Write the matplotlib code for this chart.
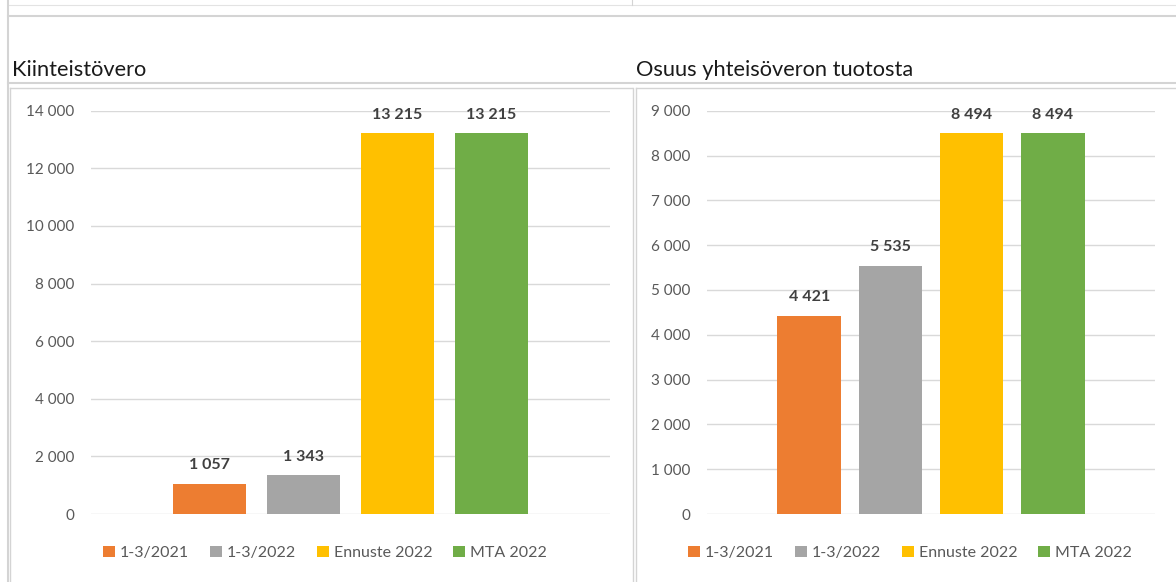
import matplotlib
matplotlib.use("Agg")
import matplotlib.pyplot as plt
from matplotlib.lines import Line2D
from matplotlib.patches import Patch

plt.rcParams['font.family'] = ['Lato', 'DejaVu Sans']

series = ['1-3/2021', '1-3/2022', 'Ennuste 2022', 'MTA 2022']
colors = ['#ED7D31', '#A5A5A5', '#FFC000', '#70AD47']

kiinteisto = [1057, 1343, 13215, 13215]
yhteisovero = [4421, 5535, 8494, 8494]

title_left = 'Kiinteistövero'
title_right = 'Osuus yhteisöveron tuotosta'
ticks_left = list(range(0, 14001, 2000))
ticks_right = list(range(0, 9001, 1000))

W, H = 1176, 582
fig = plt.figure(figsize=(W / 100, H / 100), dpi=100)


def fmt(v):
    return '{:,}'.format(int(v)).replace(',', ' ')


def px(x0, y0, x1, y1):
    # pixel box -> figure fraction rect
    return [x0 / W, 1 - y1 / H, (x1 - x0) / W, (y1 - y0) / H]


def draw(rect, values, ticks, title, title_x, legend_x):
    ax = fig.add_axes(rect)
    xs = range(len(values))
    bars = ax.bar(xs, values, width=0.785, color=colors, zorder=3)
    ax.bar_label(bars, labels=[fmt(v) for v in values], padding=8.5,
                 fontsize=11.5, fontweight='bold', color='#404040')
    ax.set_xlim(1.5 - 2.76, 1.5 + 2.76)
    ax.set_ylim(0, ticks[-1])
    ax.set_yticks(ticks)
    ax.set_yticklabels([fmt(t) for t in ticks])
    ax.set_xticks([])
    ax.tick_params(axis='y', length=0, pad=12, labelsize=11, labelcolor='#595959')
    ax.grid(axis='y', color='#D9D9D9', linewidth=1.0, zorder=0)
    ax.set_axisbelow(True)
    for s in ax.spines.values():
        s.set_visible(False)
    fig.text(title_x / W, 1 - 70 / H, title, fontsize=15.7, color='#1a1a1a',
             ha='left', va='center')
    handles = [Patch(facecolor=c, edgecolor='none') for c in colors]
    fig.legend(handles, series, loc='center', ncol=4, frameon=False,
               bbox_to_anchor=(legend_x / W, 1 - 553 / H),
               fontsize=11.5, labelcolor='#595959',
               handlelength=0.75, handleheight=0.75, handletextpad=0.3,
               columnspacing=1.3)
    return ax


draw(px(91, 110.7, 610, 514), kiinteisto, ticks_left, title_left, 12, 325)
draw(px(707, 110.7, 1155, 514), yhteisovero, ticks_right, title_right, 636, 910)

# spreadsheet cell borders around the charts
grey = '#D4D4D4'


def hline(y, x0, x1, lw=1.0, c=grey):
    fig.add_artist(Line2D([x0 / W, x1 / W], [1 - y / H, 1 - y / H], color=c, lw=lw))


def vline(x, y0, y1, lw=1.0, c=grey):
    fig.add_artist(Line2D([x / W, x / W], [1 - y0 / H, 1 - y1 / H], color=c, lw=lw))


hline(5, 8, W, 0.8, '#E3E3E3')
hline(15.5, 8, W, 1.5)
hline(83, 8, W, 1.5)
vline(7.5, 0, H, 1.5)
vline(632.5, 0, 5, 0.8)
# chart boxes
hline(88, 10, 632)
hline(88, 636, W)
vline(10, 88, H)
vline(633, 88, H)
vline(636, 88, H)

fig.savefig('out.png', dpi=100)
